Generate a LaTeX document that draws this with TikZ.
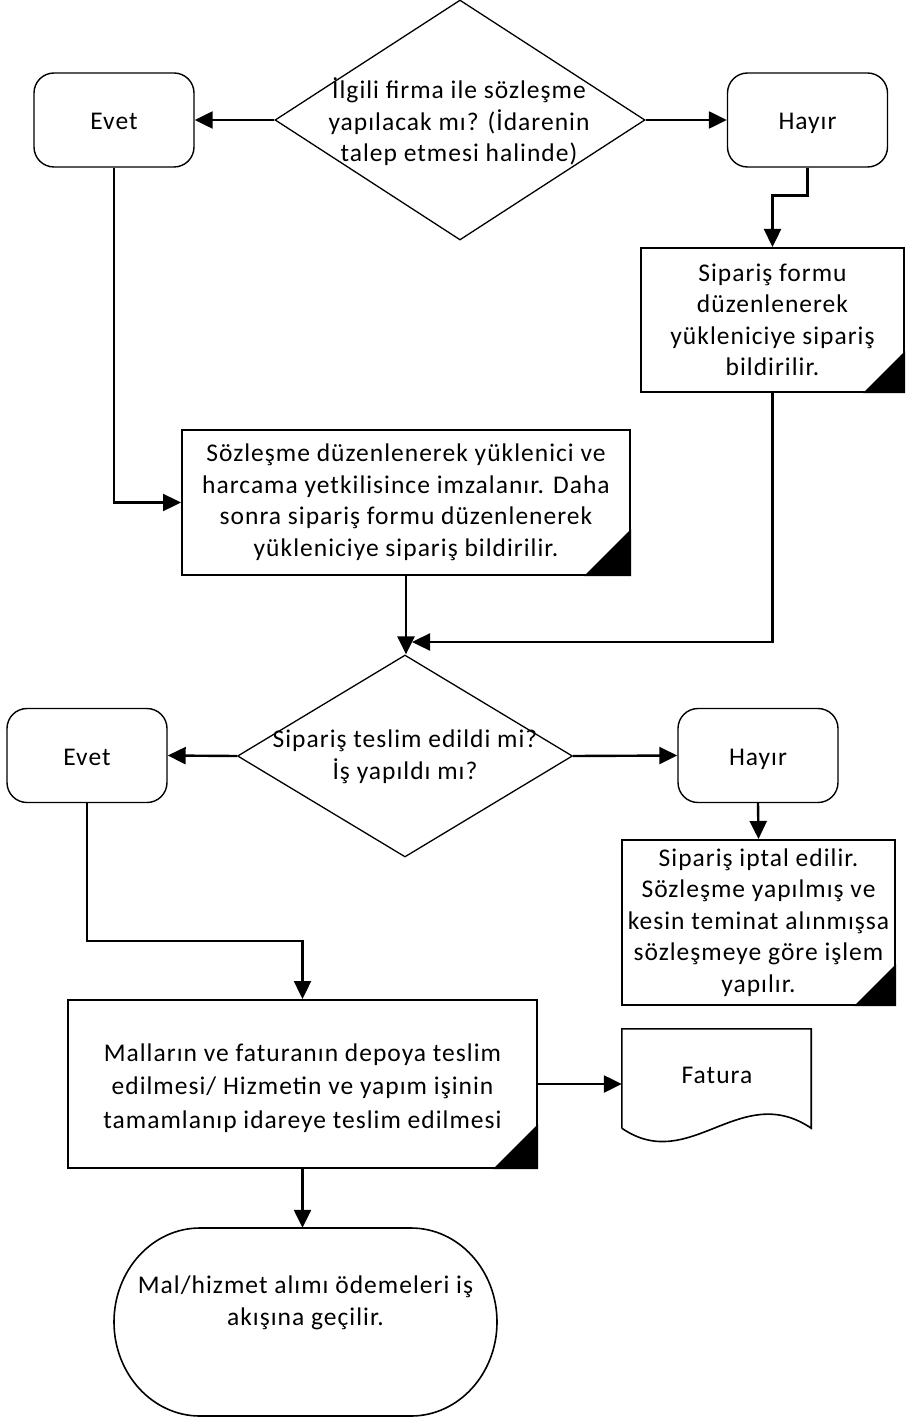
\documentclass[tikz,border=0pt]{standalone}
\usepackage{fontspec}
\setmainfont[LetterSpace=4]{Carlito}
\usetikzlibrary{arrows.meta,shapes.geometric}
\begin{document}
\begin{tikzpicture}[x=1pt,y=-1pt,
  every node/.style={font=\fontsize{25.5}{31.5}\selectfont, align=center, inner sep=0pt, text=black},
  proc/.style={draw=black, line width=2pt, rectangle, minimum width=#1},
  rbox/.style={draw=black, line width=1.4pt, rounded corners=20pt, minimum width=160pt, minimum height=94pt, text height=25pt, text depth=5pt},
  dia/.style={draw=black, diamond, line width=1.3pt, inner sep=0pt},
  conn/.style={line width=2.4pt, -{Triangle[length=18pt,width=17pt]}},
  cornermark/.style={fill=black}]
\useasboundingbox (0,0) rectangle (905,1420);

% --- top decision
\node[dia, minimum width=370pt, minimum height=240pt] (d1) at (460,120) {};
\node (d1text) at (459,122) {İlgili firma ile sözleşme\\yapılacak mı? (İdarenin\\talep etmesi halinde)};
\node[rbox] (e1) at (114,120) {Evet};
\node[rbox] (h1) at (807.5,120) {Hayır};

% --- process boxes
\node[proc=263pt, minimum height=144pt] (sf) at (772.5,320) {Sipariş formu\\düzenlenerek\\yükleniciye sipariş\\bildirilir.};
\node[proc=448pt, minimum height=145pt] (sz) at (406,502.5) {Sözleşme düzenlenerek yüklenici ve\\harcama yetkilisince imzalanır. Daha\\sonra sipariş formu düzenlenerek\\yükleniciye sipariş bildirilir.};

% --- second decision
\node[dia, minimum width=335pt, minimum height=202pt] (d2) at (405,756) {};
\node (d2text) at (405,757) {Sipariş teslim edildi mi?\\İş yapıldı mı?};
\node[rbox] (e2) at (87,755.5) {Evet};
\node[rbox] (h2) at (758,755.5) {Hayır};

\node[proc=273pt, minimum height=165pt] (ip) at (758.5,922.5) {Sipariş iptal edilir.\\Sözleşme yapılmış ve\\kesin teminat alınmışsa\\sözleşmeye göre işlem\\yapılır.};
\node[proc=469pt, minimum height=168pt] (ml) at (302.5,1084) {};
\node[font=\fontsize{25.5}{33.5}\selectfont] (mltext) at (302.5,1088) {Malların ve faturanın depoya teslim\\edilmesi/ Hizmetin ve yapım işinin\\tamamlanıp idareye teslim edilmesi};

% --- document shape
\node[minimum width=189pt, minimum height=99pt] (fat) at (716.5,1078.5) {};
\draw[line width=1.6pt] (fat.south west) -- (fat.north west) -- (fat.north east) -- (fat.south east)
  .. controls (740,1080) and (690,1175) .. (fat.south west);
\node (fattext) at (717,1075) {Fatura};

% --- terminator
\node[minimum width=383pt, minimum height=188pt] (tm) at (305.5,1322) {};
\draw[line width=1.6pt] (200,1228) -- (411,1228) .. controls (458.5,1228) and (497,1270.1) .. (497,1322)
  .. controls (497,1373.9) and (458.5,1416) .. (411,1416) -- (200,1416)
  .. controls (152.5,1416) and (114,1373.9) .. (114,1322)
  .. controls (114,1270.1) and (152.5,1228) .. (200,1228) -- cycle;
\node (tmtext) at (305.5,1303) {Mal/hizmet alımı ödemeleri iş\\akışına geçilir.};

% --- corner marks
\foreach \b/\s in {sf/42, sz/47, ip/42, ml/45} {
  \fill[cornermark] (\b.south east) -- ++(-\s,0) -- ++(\s,-\s) -- cycle;
}

% --- connectors
\draw[conn] (d1.west) -- (e1.east);
\draw[conn] (d1.east) -- (h1.west);
\draw[conn] (h1.south) -- ++(0,28) -| (sf.north);
\draw[conn] (e1.south) |- (sz.west);
\draw[conn] (sz.south) -- (sz.south |- d2.north);
\coordinate (join) at (412,642);
\draw[conn] (sf.south) |- (join);
\draw[conn] (d2.west) -- (e2.east);
\draw[conn] (d2.east) -- (h2.west);
\draw[conn] (h2.south) -- (ip.north);
\draw[conn] (e2.south) -- ++(0,138) -| (ml.north);
\draw[conn] (ml.east) -- (ml.east -| fat.west);
\draw[conn] (ml.south) -- (ml.south |- tm.north);
\end{tikzpicture}
\end{document}
